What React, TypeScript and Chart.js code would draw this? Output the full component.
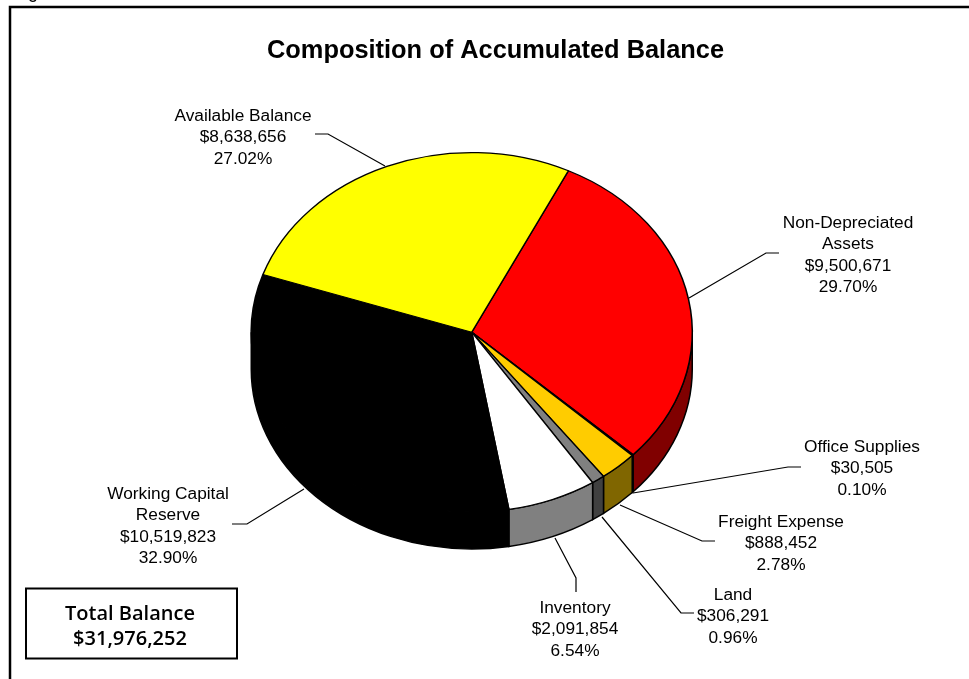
import React, { useEffect, useRef } from "react";
import { Chart, registerables } from "chart.js";

Chart.register(...registerables);

const categories = ["Non-Depreciated Assets", "Office Supplies", "Freight Expense", "Land", "Inventory", "Working Capital Reserve", "Available Balance"];
const balances = [9500671, 30505, 888452, 306291, 2091854, 10519823, 8638656];
const amountLabels = ["$9,500,671", "$30,505", "$888,452", "$306,291", "$2,091,854", "$10,519,823", "$8,638,656"];
const percentLabels = ["29.70%", "0.10%", "2.78%", "0.96%", "6.54%", "32.90%", "27.02%"];
const topColors = ["#FF0000", "#808080", "#FFCC00", "#808080", "#FFFFFF", "#000000", "#FFFF00"];
const sideColors = ["#800000", "#404040", "#806600", "#404040", "#808080", "#000000", "#808000"];
const nameLines = [["Non-Depreciated", "Assets"], ["Office Supplies"], ["Freight Expense"], ["Land"], ["Inventory"], ["Working Capital", "Reserve"], ["Available Balance"]];
const titleText = "Composition of Accumulated Balance";
const totalLines = ["Total Balance", "$31,976,252"];
const clippedCaption = "Figure";

const W = 969, H = 679;
const TILT = 0.815, DEPTH = 37;
const labelLayout = [
  { x: 848, y: 228, leader: [[689, 298], [766, 253], [779, 253]] },
  { x: 862, y: 452, leader: [[633, 493], [788, 467], [801, 467]] },
  { x: 781, y: 527, leader: [[620, 505], [702, 541], [715, 541]] },
  { x: 733, y: 600, leader: [[602, 517], [681, 613], [694, 613]] },
  { x: 575, y: 613, leader: [[555, 538], [576, 578], [576, 592]] },
  { x: 168, y: 499, leader: [[304, 489], [247, 524], [232, 524]] },
  { x: 243, y: 121, leader: [[385, 166], [328, 134], [315, 134]] },
];

const pie3d = {
  id: "pie3d",
  beforeDraw(chart: any) {
    const c = chart.ctx;
    c.save();
    c.fillStyle = "#fff";
    c.fillRect(0, 0, W, H);
    c.strokeStyle = "#000";
    c.lineWidth = 2.5;
    c.beginPath();
    c.moveTo(10, H + 5);
    c.lineTo(10, 7);
    c.lineTo(W + 5, 7);
    c.stroke();
    c.fillStyle = "#000";
    c.textAlign = "left";
    c.font = "18px 'Liberation Sans'";
    c.fillText(clippedCaption, 13, -2);
    c.restore();
  },
  beforeDatasetsDraw(chart: any) {
    const c = chart.ctx;
    const arcs = chart.getDatasetMeta(0).data;
    const { x: cx, y: cy, outerRadius: r } = arcs[0];
    const ry = r * TILT;
    c.save();
    c.lineWidth = 1.5;
    c.strokeStyle = "#000";
    arcs.forEach((a: any, i: number) => {
      let s = Math.max(a.startAngle, 0);
      let e = Math.min(a.endAngle, Math.PI);
      if (e <= s) {
        s = Math.max(a.startAngle, 2 * Math.PI);
        e = Math.min(a.endAngle, 3 * Math.PI);
        if (e <= s) return;
      }
      c.beginPath();
      c.ellipse(cx, cy, r, ry, 0, s, e);
      c.ellipse(cx, cy + DEPTH, r, ry, 0, e, s, true);
      c.closePath();
      c.fillStyle = sideColors[i];
      c.fill();
      c.stroke();
    });
    c.translate(cx, cy);
    c.scale(1, TILT);
    c.translate(-cx, -cy);
  },
  afterDatasetsDraw(chart: any) {
    chart.ctx.restore();
  },
  afterDraw(chart: any) {
    const c = chart.ctx;
    c.save();
    c.fillStyle = "#000";
    c.textAlign = "center";
    c.textBaseline = "alphabetic";
    c.font = "bold 25.4px 'Liberation Sans'";
    c.fillText(titleText, 495.5, 58);
    c.font = "17.3px 'Liberation Sans'";
    c.strokeStyle = "#000";
    c.lineWidth = 1.2;
    labelLayout.forEach((l, i) => {
      c.beginPath();
      l.leader.forEach(([x, y], j) => (j ? c.lineTo(x, y) : c.moveTo(x, y)));
      c.stroke();
      const lines = [...nameLines[i], amountLabels[i], percentLabels[i]];
      lines.forEach((t, j) => c.fillText(t, l.x, l.y + j * 21.3));
    });
    c.lineWidth = 2;
    c.strokeRect(26, 588.5, 211, 70);
    c.font = "600 20px 'Open Sans'";
    c.fillText(totalLines[0], 130, 620);
    c.fillText(totalLines[1], 130, 645);
    c.restore();
  },
};

export default function App() {
  const ref = useRef<HTMLCanvasElement>(null);
  useEffect(() => {
    const chart = new Chart(ref.current as HTMLCanvasElement, {
      type: "pie",
      data: {
        labels: categories,
        datasets: [{
          data: balances,
          backgroundColor: topColors,
          borderColor: "#000",
          borderWidth: 1.5,
          clip: false,
        } as any],
      },
      options: {
        responsive: false,
        animation: false,
        rotation: 26,
        layout: { padding: { left: 250.5, right: W - 693, top: 111, bottom: H - 553.5 } },
        plugins: { legend: { display: false }, tooltip: { enabled: false }, title: { display: false } },
      },
      plugins: [pie3d],
    } as any);
    return () => chart.destroy();
  }, []);
  return (
    <canvas
      ref={ref}
      width={W}
      height={H}
      style={{ position: "fixed", left: 0, top: 0, width: W, height: H, display: "block" }}
    />
  );
}
